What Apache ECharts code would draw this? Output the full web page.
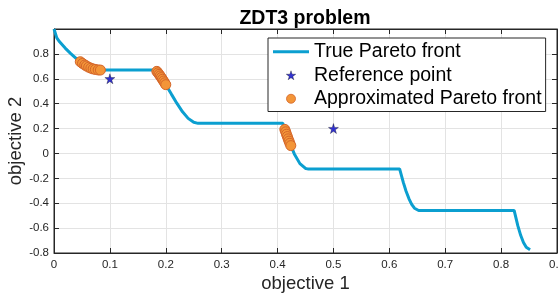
<!DOCTYPE html>
<html>
<head>
<meta charset="utf-8">
<script src="https://cdn.jsdelivr.net/npm/echarts@6/dist/echarts.min.js"></script>
<style>
  html, body { margin: 0; padding: 0; background: #fff; }
  #zdt3_chart { width: 558px; height: 297px; }
</style>
</head>
<body>
<div id="zdt3_chart"></div>
<script>
// true front (segments joined by flat steps)
var trueFrontX = [0, 0.005, 0.01, 0.02, 0.03, 0.04, 0.05, 0.06, 0.07, 0.08, 0.083,
    0.1822, 0.19, 0.2, 0.21, 0.22, 0.23, 0.24, 0.25, 0.2578,
    0.4093, 0.415, 0.42, 0.43, 0.44, 0.45, 0.4539,
    0.6184, 0.625, 0.63, 0.635, 0.64, 0.645, 0.6525,
    0.8233, 0.83, 0.835, 0.84, 0.845, 0.8518];
var trueFrontY = [1.0, 0.9285, 0.8969, 0.8468, 0.8025, 0.762, 0.7264, 0.698, 0.6788, 0.6702, 0.6697,
    0.6696, 0.6228, 0.5528, 0.4768, 0.4017, 0.3343, 0.2818, 0.25, 0.2419,
    0.2422, 0.1674, 0.105, -0.0036, -0.0818, -0.1208, -0.1242,
    -0.1242, -0.2325, -0.3034, -0.3627, -0.4087, -0.4402, -0.4583,
    -0.4579, -0.5825, -0.6578, -0.7154, -0.7538, -0.7733];

var refX = [0.1, 0.5];
var refY = [0.6, 0.2];

var approxX = [0.047, 0.051, 0.055, 0.058, 0.062, 0.066, 0.07, 0.074, 0.079, 0.083,
    0.184, 0.186, 0.188, 0.19, 0.192, 0.194, 0.196, 0.198, 0.2,
    0.413, 0.4145, 0.416, 0.4175, 0.419, 0.4205, 0.422, 0.4237];
var approxY = [0.737, 0.723, 0.711, 0.703, 0.693, 0.685, 0.679, 0.675, 0.671, 0.67,
    0.6596, 0.6479, 0.6356, 0.6228, 0.6096, 0.5959, 0.5819, 0.5674, 0.5528,
    0.1933, 0.1739, 0.1546, 0.1358, 0.1172, 0.099, 0.0814, 0.063];

var xTicks = { min: 0, max: 0.9, interval: 0.1 };
var yTicks = { min: -0.8, max: 1, interval: 0.2 };

function pairs(xs, ys) {
    var out = [];
    for (var i = 0; i < xs.length; i++) {
        out.push([xs[i], ys[i]]);
    }
    return out;
}

var starPath = 'path://M50,0 L61,35 L98,35 L68,57 L79,91 L50,70 L21,91 L32,57 L2,35 L39,35 Z';
var lineIcon = 'path://M0,0 L36,0 L36,3 L0,3 Z';
var axisColor = '#262626';
var fontName = 'Liberation Sans';

var option = {
    animation: false,
    backgroundColor: '#fff',
    title: {
        text: 'ZDT3 problem',
        left: 300,
        top: 4,
        textAlign: 'center',
        textStyle: { fontFamily: fontName, fontSize: 19.5, fontWeight: 'bold', color: '#000' }
    },
    legend: {
        orient: 'vertical',
        left: 268,
        top: 38,
        padding: [2, 4, 1, 5],
        itemGap: 0,
        itemWidth: 36,
        itemHeight: 9,
        borderColor: axisColor,
        borderWidth: 1,
        backgroundColor: '#fff',
        textStyle: { fontFamily: fontName, fontSize: 19.5, color: '#000', lineHeight: 23.5 },
        data: [
            { name: 'True Pareto front', icon: lineIcon },
            { name: 'Reference point', itemStyle: { borderWidth: 0.4 } },
            { name: 'Approximated Pareto front', itemStyle: { borderWidth: 0.8 } }
        ]
    },
    grid: {
        left: 54,
        right: 1,
        top: 29,
        bottom: 44,
        outerBoundsMode: 'none',
        show: true,
        borderColor: axisColor,
        borderWidth: 1
    },
    xAxis: [{
        type: 'value',
        min: xTicks.min, max: xTicks.max, interval: xTicks.interval,
        name: 'objective 1',
        nameLocation: 'middle',
        nameGap: 21,
        nameMoveOverlap: false,
        nameTextStyle: { fontFamily: fontName, fontSize: 18.5, color: axisColor },
        axisLine: { onZero: false, lineStyle: { color: axisColor } },
        axisTick: { inside: true, length: 5, lineStyle: { color: axisColor } },
        axisLabel: { margin: 6, fontFamily: fontName, fontSize: 11.5, color: axisColor, showMaxLabel: true },
        splitLine: { lineStyle: { color: '#e3e3e3' } }
    }, {
        type: 'value', position: 'top',
        min: xTicks.min, max: xTicks.max, interval: xTicks.interval,
        axisLine: { show: true, onZero: false, lineStyle: { color: axisColor } },
        axisTick: { inside: true, length: 5, lineStyle: { color: axisColor } },
        axisLabel: { show: false },
        splitLine: { show: false }
    }],
    yAxis: [{
        type: 'value',
        min: yTicks.min, max: yTicks.max, interval: yTicks.interval,
        name: 'objective 2',
        nameLocation: 'middle',
        nameGap: 29,
        nameMoveOverlap: false,
        nameTextStyle: { fontFamily: fontName, fontSize: 18.5, color: axisColor },
        axisLine: { show: true, onZero: false, lineStyle: { color: axisColor } },
        axisTick: { inside: true, length: 5, lineStyle: { color: axisColor } },
        axisLabel: {
            margin: 5, fontFamily: fontName, fontSize: 11.5, color: axisColor,
            formatter: function (v) { return v > 0.95 ? '' : String(Math.round(v * 10) / 10); }
        },
        splitLine: { lineStyle: { color: '#e3e3e3' } }
    }, {
        type: 'value', position: 'right',
        min: yTicks.min, max: yTicks.max, interval: yTicks.interval,
        axisLine: { show: true, onZero: false, lineStyle: { color: axisColor } },
        axisTick: { inside: true, length: 5, lineStyle: { color: axisColor } },
        axisLabel: { show: false },
        splitLine: { show: false }
    }],
    series: [{
        name: 'True Pareto front',
        type: 'line',
        symbol: 'none',
        data: pairs(trueFrontX, trueFrontY),
        lineStyle: { color: '#0b9fd0', width: 3 },
        itemStyle: { color: '#0b9fd0' },
        z: 2
    }, {
        name: 'Reference point',
        type: 'scatter',
        symbol: starPath,
        symbolSize: 10,
        data: pairs(refX, refY),
        itemStyle: { color: '#0000c8', borderColor: '#000', borderWidth: 0.4 },
        z: 4
    }, {
        name: 'Approximated Pareto front',
        type: 'scatter',
        symbol: 'circle',
        symbolSize: 10,
        data: pairs(approxX, approxY),
        itemStyle: { color: '#f39538', borderColor: '#d4652a', borderWidth: 1, opacity: 1 },
        z: 3
    }]
};

echarts.init(document.getElementById('zdt3_chart')).setOption(option);
</script>
</body>
</html>
